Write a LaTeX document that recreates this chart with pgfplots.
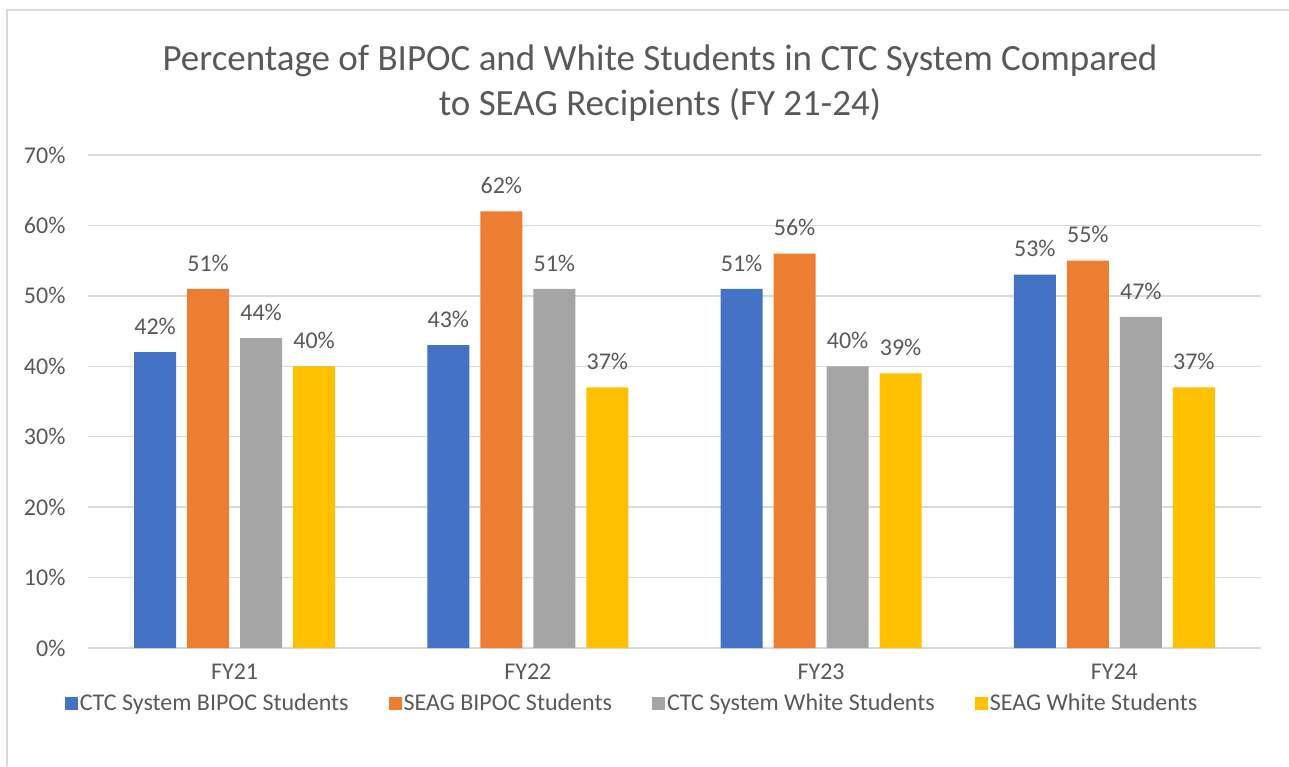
\documentclass[border=0pt]{standalone}
\usepackage{pgfplots}
\pgfplotsset{compat=1.18}
\usepackage{fontspec}
\setmainfont{Carlito}
\definecolor{cblue}{HTML}{4472C4}
\definecolor{corange}{HTML}{ED7D31}
\definecolor{cgray}{HTML}{A5A5A5}
\definecolor{cyellow}{HTML}{FFC000}
\definecolor{txt}{HTML}{595959}
\definecolor{gridc}{HTML}{D9D9D9}
\begin{document}
\begin{tikzpicture}[x=1pt,y=1pt]
\path[use as bounding box] (0,0) rectangle (1289,766);
\draw[gridc,line width=1.5pt] (7,0) -- (7,756) -- (1289,756);
\node[text=txt,font=\fontsize{37}{45}\selectfont,align=center] at (660,683) {Percentage of BIPOC and White Students in CTC System Compared\\to SEAG Recipients (FY 21-24)};
\begin{axis}[
  at={(88pt,118pt)}, anchor=south west,
  scale only axis, width=1173pt, height=493pt,
  ymin=0, ymax=70, xmin=-0.5, xmax=3.5,
  ybar=11pt, bar width=42pt,
  xtick=data, xticklabels={FY21,FY22,FY23,FY24},
  ytick={0,10,...,70}, yticklabels={0\%,10\%,20\%,30\%,40\%,50\%,60\%,70\%},
  xmajorgrids=false, ymajorgrids=true, grid style={draw=gridc,line width=1.3pt},
  axis line style={draw=none},
  major tick length=0pt,
  tick label style={text=txt,font=\fontsize{24}{28}\selectfont},
  yticklabel style={xshift=-19pt},
  xticklabel style={yshift=-12pt},
  nodes near coords={\pgfmathprintnumber[assume math mode=true]{\pgfplotspointmeta}\%},
  every node near coord/.append style={text=txt,font=\fontsize{24}{28}\selectfont,yshift=14pt},
  legend style={at={(0.4638,-0.1116)},anchor=center,draw=none,fill=none,
    legend columns=4,font=\fontsize{24}{28}\selectfont,text=txt,
    /tikz/every even column/.append style={column sep=38pt}},
  legend image code/.code={\fill[#1] (0pt,-7pt) rectangle (13pt,6pt);},
]
\addplot[fill=cblue,draw=none] coordinates {(0,42) (1,43) (2,51) (3,53)};
\addplot[fill=corange,draw=none] coordinates {(0,51) (1,62) (2,56) (3,55)};
\addplot[fill=cgray,draw=none] coordinates {(0,44) (1,51) (2,40) (3,47)};
\addplot[fill=cyellow,draw=none] coordinates {(0,40) (1,37) (2,39) (3,37)};
\legend{CTC System BIPOC Students,SEAG BIPOC Students,CTC System White Students,SEAG White Students}
\end{axis}
\end{tikzpicture}
\end{document}
